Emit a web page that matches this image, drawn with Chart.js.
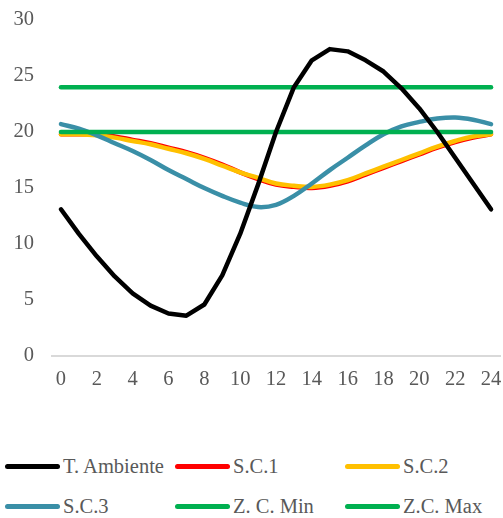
<!DOCTYPE html>
<html>
<head>
<meta charset="utf-8">
<script src="https://cdn.jsdelivr.net/npm/chart.js@4.4.0/dist/chart.umd.min.js"></script>
<style>
    html, body { margin: 0; padding: 0; background: #fff; }
    #wrap { position: relative; width: 503px; height: 518px; }
    #chart-canvas { position: absolute; left: 0; top: 0; }
    #legend { position: absolute; left: 5px; top: 446px; width: 510px; font-family: 'Liberation Serif', serif; font-size: 20.5px; color: #595959; }
    .legend-row { display: flex; height: 40px; align-items: center; }
    .legend-item { width: 172px; display: flex; align-items: center; }
    .legend-line { width: 55px; height: 5px; border-radius: 3px; margin-right: 3px; }
</style>
</head>
<body>
<div id="wrap">
    <canvas id="chart-canvas" width="503" height="400"></canvas>
    <div id="legend"></div>
</div>
<script>
// hours of the day
const hours = ['0','1','2','3','4','5','6','7','8','9','10','11','12','13','14','15','16','17','18','19','20','21','22','23','24'];

const t_ambiente = [13.1, 10.9, 8.9, 7.1, 5.6, 4.5, 3.8, 3.6, 4.6, 7.2, 10.9, 15.3, 20.0, 24.0, 26.4, 27.4, 27.2, 26.4, 25.4, 23.9, 22.1, 20.0, 17.7, 15.4, 13.1];
const sc1 = [19.8, 19.8, 19.8, 19.6, 19.3, 19.0, 18.6, 18.2, 17.7, 17.1, 16.4, 15.8, 15.3, 15.1, 15.0, 15.2, 15.6, 16.2, 16.8, 17.4, 18.0, 18.6, 19.1, 19.5, 19.8];
const sc2 = [19.8, 19.8, 19.7, 19.5, 19.2, 18.9, 18.5, 18.1, 17.6, 17.0, 16.4, 15.9, 15.4, 15.2, 15.1, 15.3, 15.7, 16.3, 16.9, 17.5, 18.1, 18.7, 19.2, 19.6, 19.8];
const sc3 = [20.7, 20.3, 19.7, 19.0, 18.3, 17.5, 16.6, 15.8, 15.0, 14.3, 13.7, 13.3, 13.5, 14.3, 15.4, 16.6, 17.7, 18.8, 19.8, 20.5, 20.9, 21.2, 21.3, 21.1, 20.7];
const zc_min = [20, 20, 20, 20, 20, 20, 20, 20, 20, 20, 20, 20, 20, 20, 20, 20, 20, 20, 20, 20, 20, 20, 20, 20, 20];
const zc_max = [24, 24, 24, 24, 24, 24, 24, 24, 24, 24, 24, 24, 24, 24, 24, 24, 24, 24, 24, 24, 24, 24, 24, 24, 24];

const y_ticks = [0, 5, 10, 15, 20, 25, 30];

const series_names = ['T. Ambiente', 'S.C.1', 'S.C.2', 'S.C.3', 'Z. C. Min', 'Z.C. Max'];
const series_data = [t_ambiente, sc1, sc2, sc3, zc_min, zc_max];
const series_colours = ['#000000', '#ff0000', '#ffc000', '#3a8fa7', '#00b050', '#00b050'];
const series_smooth = [0, 0.4, 0.4, 0.4, 0, 0];
// stacking of the lines: lower value is drawn on top (black over greens over the rest)
const series_order = [0, 5, 4, 3, 2, 1];

const text_colour = '#595959';
const font_family = "'Liberation Serif', 'Times New Roman', serif";

let datasets = series_names.map((name, i) => ({
    label: name,
    data: series_data[i],
    borderColor: series_colours[i],
    backgroundColor: series_colours[i],
    borderWidth: 4.5,
    borderCapStyle: 'round',
    borderJoinStyle: 'round',
    pointRadius: 0,
    tension: series_smooth[i],
    fill: false,
    order: series_order[i]
}));

let chart = new Chart(document.getElementById('chart-canvas'), {
    type: 'line',
    data: { labels: hours, datasets: datasets },
    options: {
        responsive: false,
        animation: false,
        events: [],
        layout: { padding: { top: 20, right: 3, bottom: 4, left: 0 } },
        plugins: { legend: { display: false }, tooltip: { enabled: false } },
        scales: {
            x: {
                type: 'category',
                offset: true,
                grid: { display: false, drawTicks: false },
                border: { display: true, color: '#d9d9d9', width: 2 },
                ticks: {
                    autoSkip: false,
                    maxRotation: 0,
                    padding: 11,
                    color: text_colour,
                    font: { family: font_family, size: 20.5 },
                    callback: function (value, index) {
                        return index % 2 === 0 ? hours[index] : '';
                    }
                },
                afterFit: function (axis) {
                    axis.height = 40;
                    axis.paddingLeft = 0;
                    axis.paddingRight = 0;
                }
            },
            y: {
                min: 0,
                max: 30,
                grid: { display: false, drawTicks: false },
                border: { display: false },
                afterBuildTicks: function (axis) {
                    axis.ticks = y_ticks.map(v => ({ value: v }));
                },
                ticks: {
                    padding: 18,
                    color: text_colour,
                    font: { family: font_family, size: 20.5 }
                },
                afterFit: function (axis) {
                    axis.width = 52;
                    axis.paddingTop = 0;
                    axis.paddingBottom = 0;
                }
            }
        }
    }
});

// legend in two rows of three, fixed columns
let legend = document.getElementById('legend');
let legend_html = '';
for (let r = 0; r < 2; r++) {
    legend_html += "<div class='legend-row'>";
    for (let c = 0; c < 3; c++) {
        let i = r * 3 + c;
        legend_html += "<div class='legend-item'><span class='legend-line' style='background:" + series_colours[i] + "'></span>" + series_names[i] + "</div>";
    }
    legend_html += "</div>";
}
legend.insertAdjacentHTML('afterbegin', legend_html);
</script>
</body>
</html>
